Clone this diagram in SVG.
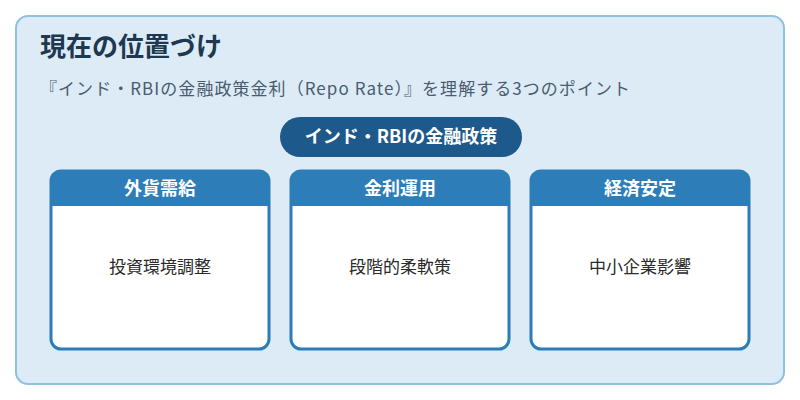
<svg xmlns="http://www.w3.org/2000/svg" width="800" height="400" viewBox="0 0 800 400">
<style>
text{font-family:"Noto Sans CJK JP","Noto Sans",sans-serif}
.hd{fill:#2c7db8}
.box{fill:#fff;stroke:#2c7db8;stroke-width:3}
.ht{fill:#fff;font-size:18px;font-weight:bold;text-anchor:middle}
.bt{fill:#2a2a2a;font-size:17px;text-anchor:middle}
</style>
<rect x="16" y="16" width="768" height="368" rx="12" fill="#dcebf6" stroke="#8ec0e0" stroke-width="2"/>
<text x="40" y="56" font-size="26" font-weight="bold" fill="#1e3850">現在の位置づけ</text>
<text x="40" y="95" font-size="17" fill="#4a5c6e" textLength="590" lengthAdjust="spacing">『インド・RBIの金融政策金利（Repo Rate）』を理解する3つのポイント</text>
<g id="root"><rect x="280" y="117" width="242" height="40" rx="20" fill="#1d5a8b"/>
<text x="401" y="143" class="ht">インド・RBIの金融政策</text></g>
<g id="n1"><rect x="51" y="171" width="218" height="178" rx="10" class="box"/>
<path d="M51 206V181a10 10 0 0 1 10-10h198a10 10 0 0 1 10 10v25z" class="hd"/>
<text x="160" y="195" class="ht">外貨需給</text><text x="160" y="273" class="bt">投資環境調整</text></g>
<g id="n2"><rect x="291" y="171" width="218" height="178" rx="10" class="box"/>
<path d="M291 206V181a10 10 0 0 1 10-10h198a10 10 0 0 1 10 10v25z" class="hd"/>
<text x="400" y="195" class="ht">金利運用</text><text x="400" y="273" class="bt">段階的柔軟策</text></g>
<g id="n3"><rect x="531" y="171" width="218" height="178" rx="10" class="box"/>
<path d="M531 206V181a10 10 0 0 1 10-10h198a10 10 0 0 1 10 10v25z" class="hd"/>
<text x="640" y="195" class="ht">経済安定</text><text x="640" y="273" class="bt">中小企業影響</text></g>
<g id="connectors"></g>
</svg>
